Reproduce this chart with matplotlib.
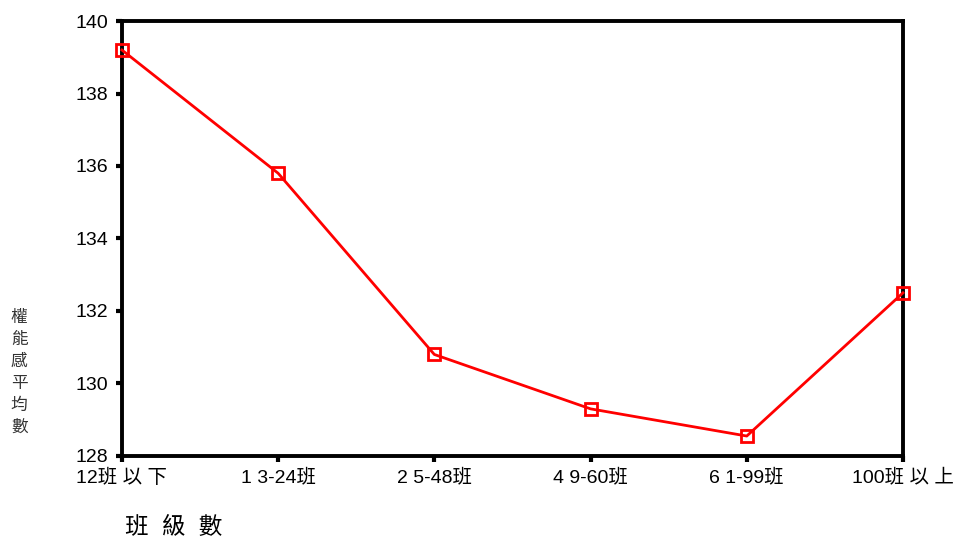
import matplotlib
matplotlib.use("Agg")
import matplotlib.pyplot as plt

categories = ["12班 以 下", "1 3-24班", "2 5-48班", "4 9-60班", "6 1-99班", "100班 以 上"]
means = [139.2, 135.8, 130.8, 129.3, 128.55, 132.5]
yticks = [128, 130, 132, 134, 136, 138, 140]

FONTS = ["Liberation Sans", "Noto Sans CJK TC", "DejaVu Sans"]
plt.rcParams["font.family"] = FONTS

fig = plt.figure(figsize=(9.6, 5.4), dpi=100)
ax = fig.add_axes([0.127, 0.1556, 0.8136, 0.8055])

x = list(range(len(categories)))
ax.plot(x, means, color="#ff0000", linewidth=2, marker="s", markersize=9,
        markerfacecolor="none", markeredgecolor="#ff0000", markeredgewidth=2,
        clip_on=False, zorder=5)

ax.set_xlim(0, len(categories) - 1)
ax.set_ylim(128, 140)
ax.set_xticks(x)
ax.set_xticklabels(categories, fontsize=14)
ax.set_yticks(yticks)
ax.set_yticklabels([str(t) for t in yticks], fontsize=14)
ax.tick_params(direction="out", length=4, width=3, color="black", pad=6)
ax.tick_params(axis="x", pad=5)

for s in ax.spines.values():
    s.set_linewidth(2.8)
    s.set_color("black")

fig.text(0.13, 0.023, "班  級  數", fontsize=17, ha="left", va="center")
ylab = "權能感平均數"
fig.text(0.02, 0.31, "\n".join(ylab), fontsize=12,
         ha="center", va="center", linespacing=1.55, color="#333333")

fig.savefig("out.png", dpi=100)
